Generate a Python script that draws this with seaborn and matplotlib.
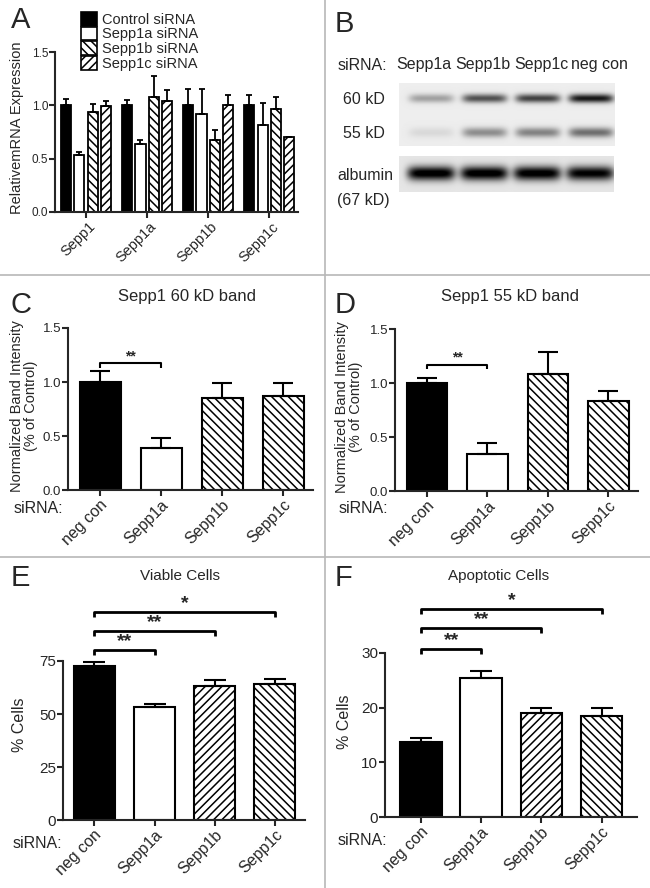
import numpy as np
import pandas as pd
import matplotlib.pyplot as plt
import matplotlib.transforms as mtrans
import seaborn as sns
from matplotlib.patches import Patch
from matplotlib.lines import Line2D

# panel A: relative mRNA, one list per siRNA treatment, ordered like genes
genes = ["Sepp1", "Sepp1a", "Sepp1b", "Sepp1c"]
treatments = ["Control siRNA", "Sepp1a siRNA", "Sepp1b siRNA", "Sepp1c siRNA"]
mrna_control = [1.00, 1.00, 1.00, 1.00]
mrna_sepp1a = [0.53, 0.64, 0.92, 0.82]
mrna_sepp1b = [0.94, 1.08, 0.675, 0.965]
mrna_sepp1c = [0.995, 1.04, 1.00, 0.70]
err_control = [0.06, 0.05, 0.15, 0.10]
err_sepp1a = [0.035, 0.035, 0.23, 0.20]
err_sepp1b = [0.07, 0.195, 0.095, 0.11]
err_sepp1c = [0.045, 0.10, 0.10, 0.005]

# panel B: western blot band darkness per lane
blot_lanes = ["Sepp1a", "Sepp1b", "Sepp1c", "neg con"]
blot_60kd = [0.30, 0.62, 0.68, 0.85]
blot_55kd = [0.08, 0.38, 0.42, 0.50]
blot_albumin = [0.97, 0.97, 0.96, 0.92]

# panels C-F
sirna = ["neg con", "Sepp1a", "Sepp1b", "Sepp1c"]
band60 = [1.00, 0.385, 0.855, 0.868]
band60_err = [0.10, 0.10, 0.14, 0.12]
band55 = [1.00, 0.347, 1.083, 0.836]
band55_err = [0.05, 0.096, 0.205, 0.087]
viable = [72.5, 53.4, 63.4, 64.2]
viable_err = [1.9, 1.4, 2.8, 2.2]
apoptotic = [13.7, 25.5, 19.0, 18.4]
apoptotic_err = [0.75, 1.2, 0.9, 1.6]

sns.set_style("ticks")
plt.rcParams["font.family"] = ["Liberation Sans", "DejaVu Sans"]
plt.rcParams["hatch.linewidth"] = 1.1
plt.rcParams["axes.linewidth"] = 1.5

W, H = 650, 888
fig = plt.figure(figsize=(6.5, 8.88), dpi=100)


def px_axes(left, top, right, bottom):
    return fig.add_axes([left / W, 1 - bottom / H, (right - left) / W, (bottom - top) / H])


def ftext(x, y, s, **kw):
    return fig.text(x / W, 1 - y / H, s, **kw)


def style_axis(ax, ylim, yticks, fmt, tick_fs, ymax_spine):
    sns.despine(ax=ax)
    ax.set_ylim(*ylim)
    ax.set_yticks(yticks)
    ax.set_yticklabels([fmt.format(t) for t in yticks], fontsize=tick_fs)
    ax.spines["left"].set_bounds(0, ymax_spine)
    ax.tick_params(direction="out", length=4, width=1.5, pad=1)
    ax.set_xlabel("")
    ax.set_ylabel("")


def rotated_xticks(ax, labels, fs, shift_px):
    ax.set_xticks(range(len(labels)))
    ax.set_xticklabels(labels, rotation=45, ha="right", va="center",
                       rotation_mode="anchor", fontsize=fs)
    ax.tick_params(axis="x", pad=5)
    offset = mtrans.ScaledTranslation(shift_px / 100, 0, fig.dpi_scale_trans)
    for lab in ax.get_xticklabels():
        lab.set_transform(lab.get_transform() + offset)


def bracket(ax, x0, x1, y, tick, text, fs, lw=1.5):
    ax.plot([x0, x0, x1, x1], [y - tick, y, y, y - tick], color="black", lw=lw,
            clip_on=False, solid_capstyle="butt")
    ax.text((x0 + x1) / 2, y, text, ha="center", va="bottom", fontsize=fs, fontweight="bold")


# ---------- panel A ----------
mrna = pd.DataFrame({
    "gene": genes * 4,
    "treatment": np.repeat(treatments, 4),
    "value": mrna_control + mrna_sepp1a + mrna_sepp1b + mrna_sepp1c,
    "err": err_control + err_sepp1a + err_sepp1b + err_sepp1c,
})
hatches_a = ["", "", "\\\\\\\\", "////"]
colors_a = ["black", "white", "white", "white"]

axA = px_axes(55, 52, 298, 212)
sns.barplot(data=mrna, x="gene", y="value", hue="treatment", palette=colors_a,
            width=0.88, gap=0.25, errorbar=None, edgecolor="black", linewidth=1.3,
            legend=False, ax=axA)
for cont, t, h in zip(axA.containers, treatments, hatches_a):
    sub = mrna[mrna.treatment == t]
    xs = []
    for bar in cont:
        bar.set_hatch(h)
        xs.append(bar.get_x() + bar.get_width() / 2)
    axA.errorbar(xs, sub["value"], yerr=[np.zeros(len(xs)), sub["err"]], fmt="none",
                 ecolor="black", elinewidth=1.3, capsize=2.5, capthick=1.3)
axA.set_xlim(-0.51, 3.47)
style_axis(axA, (0, 1.5), [0, 0.5, 1.0, 1.5], "{:.1f}", 8.5, 1.5)
rotated_xticks(axA, genes, 10.5, 7)
ftext(17, 128, "RelativemRNA Expression", rotation=90, ha="center", va="center", fontsize=10.5)
handles = [Patch(facecolor=c, edgecolor="black", hatch=h, linewidth=1.2)
           for c, h in zip(colors_a, hatches_a)]
axA.legend(handles, treatments, loc="upper left", bbox_to_anchor=(81 / W, 1 - 12 / H),
           bbox_transform=fig.transFigure, frameon=False, fontsize=10.5, handlelength=1.1,
           handleheight=1.05, labelspacing=0.0, handletextpad=0.35, borderpad=0,
           borderaxespad=0)

# ---------- panel B (blot) ----------
def blot_image(axb, bands, bg, lane_w):
    nx, ny = 216, 64
    x = np.linspace(-0.6, 3.44, nx)
    y = np.linspace(0, 1, ny)
    img = np.full((ny, nx), bg)
    for inten, yc, sy in bands:
        for lane, a in enumerate(inten):
            px = np.exp(-np.abs((x - lane) / (lane_w / 2)) ** 6)
            py = np.exp(-((y - yc) / sy) ** 2)
            img -= a * np.outer(py, px)
    axb.imshow(np.clip(img, 0, 1), cmap="gray", vmin=0, vmax=1, aspect="auto",
               extent=(-0.6, 3.44, 1, 0), interpolation="bilinear")
    axb.set_axis_off()


axB1 = px_axes(399, 83, 615, 146)
blot_image(axB1, [(blot_60kd, 0.24, 0.07), (blot_55kd, 0.79, 0.08)], 0.93, 0.84)
axB2 = px_axes(399, 156, 614, 192)
blot_image(axB2, [(blot_albumin, 0.48, 0.2)], 0.90, 0.90)

ftext(338, 65, "siRNA:", ha="left", va="center", fontsize=11.5)
for lane, name in enumerate(blot_lanes):
    ftext(424 + lane * 58.5, 65, name, ha="center", va="center", fontsize=11.5)
ftext(364, 100, "60 kD", ha="center", va="center", fontsize=11.5)
ftext(364, 133, "55 kD", ha="center", va="center", fontsize=11.5)
ftext(337, 176, "albumin", ha="left", va="center", fontsize=11.5)
ftext(337, 200, "(67 kD)", ha="left", va="center", fontsize=11.5)


# ---------- panels C-F ----------
def sirna_bars(ax, values, errs, hatches, width, capsize, xlim):
    sns.barplot(x=sirna, y=values, hue=sirna, palette=["black", "white", "white", "white"],
                width=width, errorbar=None, edgecolor="black", linewidth=1.5,
                legend=False, ax=ax)
    xs = []
    for bar, h in zip(ax.patches, hatches):
        bar.set_hatch(h)
        xs.append(bar.get_x() + bar.get_width() / 2)
    ax.errorbar(xs, values, yerr=[np.zeros(4), errs], fmt="none", ecolor="black",
                elinewidth=1.5, capsize=capsize, capthick=1.5)
    ax.set_xlim(*xlim)


axC = px_axes(68, 328, 313, 490)
sirna_bars(axC, band60, band60_err, ["", "", "\\\\\\\\", "\\\\\\\\"], 0.67, 7, (-0.53, 3.49))
style_axis(axC, (0, 1.5), [0, 0.5, 1.0, 1.5], "{:.1f}", 9.5, 1.5)
rotated_xticks(axC, sirna, 11.5, 5)
bracket(axC, 0, 1, 1.175, 0.045, "**", 10)
ftext(187, 296, "Sepp1 60 kD band", ha="center", va="center", fontsize=12)
ftext(24, 406, "Normalized Band Intensity\n(% of Control)", rotation=90,
      ha="center", va="center", fontsize=10.5, linespacing=1.0)
ftext(14, 508, "siRNA:", ha="left", va="center", fontsize=11.5)

axD = px_axes(395, 329, 638, 491)
sirna_bars(axD, band55, band55_err, ["", "", "\\\\\\\\", "\\\\\\\\"], 0.67, 7, (-0.53, 3.49))
style_axis(axD, (0, 1.5), [0, 0.5, 1.0, 1.5], "{:.1f}", 9.5, 1.5)
rotated_xticks(axD, sirna, 11.5, 5)
bracket(axD, 0, 1, 1.17, 0.045, "**", 10)
ftext(510, 296, "Sepp1 55 kD band", ha="center", va="center", fontsize=12)
ftext(349, 407, "Normalized Band Intensity\n(% of Control)", rotation=90,
      ha="center", va="center", fontsize=10.5, linespacing=1.0)
ftext(339, 508, "siRNA:", ha="left", va="center", fontsize=11.5)

axE = px_axes(63, 597.4, 305, 820)
sirna_bars(axE, viable, viable_err, ["", "", "////", "\\\\\\\\"], 0.68, 8, (-0.52, 3.5))
style_axis(axE, (0, 105), [0, 25, 50, 75], "{:d}", 11, 75)
rotated_xticks(axE, sirna, 11.5, 5)
bracket(axE, 0, 1, 80.0, 2.4, "**", 14, lw=2)
bracket(axE, 0, 2, 89.0, 2.4, "**", 14, lw=2)
bracket(axE, 0, 3, 98.1, 2.4, "*", 14, lw=2)
ftext(180, 576, "Viable Cells", ha="center", va="center", fontsize=11)
ftext(19, 725, "% Cells", rotation=90, ha="center", va="center", fontsize=11.5)
ftext(13, 843, "siRNA:", ha="left", va="center", fontsize=11.5)

axF = px_axes(385, 587.4, 637, 817)
sirna_bars(axF, apoptotic, apoptotic_err, ["", "", "////", "\\\\\\\\"], 0.69, 8, (-0.6, 3.59))
style_axis(axF, (0, 42), [0, 10, 20, 30], "{:d}", 11, 30)
rotated_xticks(axF, sirna, 11.5, 5)
bracket(axF, 0, 1, 30.8, 0.9, "**", 14, lw=2)
bracket(axF, 0, 2, 34.6, 0.9, "**", 14, lw=2)
bracket(axF, 0, 3, 38.1, 0.9, "*", 14, lw=2)
ftext(499, 576, "Apoptotic Cells", ha="center", va="center", fontsize=11)
ftext(344, 722, "% Cells", rotation=90, ha="center", va="center", fontsize=11.5)
ftext(338, 840, "siRNA:", ha="left", va="center", fontsize=11.5)

# panel letters and dividers
for letter, x, y in [("A", 11, 20), ("B", 335, 24), ("C", 11, 305), ("D", 335, 305),
                     ("E", 11, 578), ("F", 335, 578)]:
    ftext(x, y, letter, ha="left", va="center", fontsize=21)
for xs, ys in [([325, 325], [0, H]), ([0, W], [275, 275]), ([0, W], [557, 557])]:
    fig.add_artist(Line2D([v / W for v in xs], [1 - v / H for v in ys],
                          transform=fig.transFigure, color="#b8b8b8", lw=1.2))

fig.savefig("out.png", dpi=100, facecolor="white")
